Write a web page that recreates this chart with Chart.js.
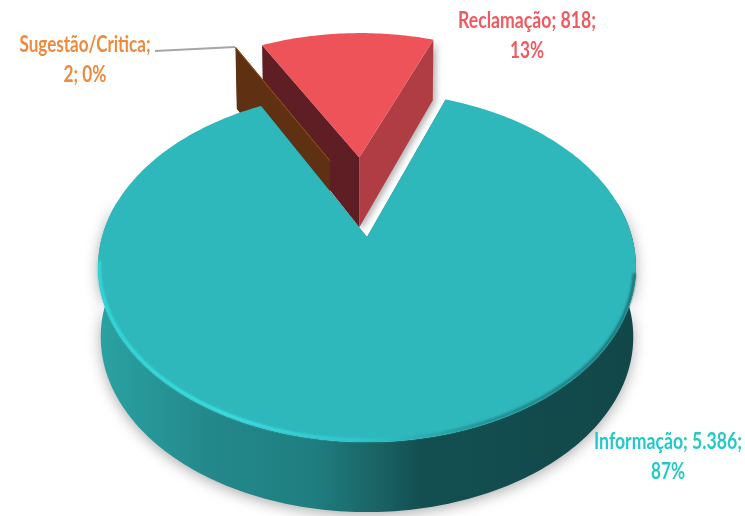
<!DOCTYPE html>
<html>
<head>
<meta charset="utf-8">
<title>Pie 3D</title>
<script src="https://cdn.jsdelivr.net/npm/chart.js@4"></script>
<style>
  html, body { margin: 0; padding: 0; background: #fff; }
  canvas { display: block; }
</style>
</head>
<body>
<canvas id="pieChart" width="745" height="516"></canvas>
<script>
const categories = ['Informação', 'Sugestão/Critica', 'Reclamação'];
const values = [5386, 2, 818];
const percentLabels = ['87%', '0%', '13%'];
const valueLabels = ['5.386', '2', '818'];

// colours per slice
const faceColors = ['#2eb8bc', '#8a4a1a', '#ee5359'];
const startWallColors = ['#1a6a6c', '#5f3112', '#5f1e24'];
const endWallColors = ['#1a6a6c', '#5f3112', '#b03d43'];
const labelColors = ['#22c9c6', '#ee8a3e', '#ee5a60'];

// perspective of the disc, in px
const persp = -0.171, scaleX = 265, scaleY = 170;
const DEG = Math.PI / 180;

function project(c, u, v, drop) {
  const w = 1 + persp * v;
  let x = c.x + scaleX * u / w;
  let y = c.y + scaleY * v / w;
  if (drop) {
    x = c.x + (x - c.x) * 0.99;
    y += v > -0.5 ? 70 : 70 + (v + 0.5) * 10;
  }
  return [x, y];
}

function polygon(ctx, pts) {
  ctx.beginPath();
  pts.forEach((p, i) => (i ? ctx.lineTo(p[0], p[1]) : ctx.moveTo(p[0], p[1])));
  ctx.closePath();
}

function linearX(ctx, x0, x1, stops) {
  const g = ctx.createLinearGradient(x0, 0, x1, 0);
  stops.forEach(s => g.addColorStop(s[0], s[1]));
  return g;
}

function drawSlice(ctx, arc, i) {
  const c = { x: arc.x, y: arc.y };
  const mid = (arc.startAngle + arc.endAngle) / 2;
  const explode = arc.options.offset / 100;
  // the thin slice sits a bit right of its mid angle line in the reference
  const u0 = Math.cos(mid) * explode + (i === 1 ? 0.1 : 0);
  const v0 = Math.sin(mid) * explode;
  const rim = (a) => [u0 + Math.cos(a), v0 + Math.sin(a)];
  const a1 = arc.startAngle, a2 = arc.endAngle;

  // outer wall, only where it faces the viewer
  if (a2 - a1 > Math.PI) {
    const top = [], bottom = [];
    for (let d = -12; d <= 192; d++) {
      const a = d * DEG;
      const p = rim(a);
      top.push(project(c, p[0], p[1], false));
      bottom.unshift(project(c, p[0], p[1], true));
    }
    ctx.save();
    ctx.shadowColor = 'rgba(0,0,0,0.32)';
    ctx.shadowBlur = 14;
    ctx.shadowOffsetY = 3;
    polygon(ctx, top.concat(bottom));
    ctx.fillStyle = linearX(ctx, 98, 636, [
      [0, '#2aa2a3'], [0.2, '#24898b'], [0.4, '#1f7e80'],
      [0.52, '#1a6365'], [0.6, '#134f51'], [1, '#124749']
    ]);
    ctx.fill();
    ctx.restore();
  }

  // cut walls
  [[a1, startWallColors[i]], [a2, endWallColors[i]]].forEach(([a, color]) => {
    const p = rim(a);
    ctx.save();
    if (i === 2) {
      ctx.shadowColor = 'rgba(0,0,0,0.3)';
      ctx.shadowBlur = 6;
      ctx.shadowOffsetX = 3;
      ctx.shadowOffsetY = 2;
    }
    polygon(ctx, [
      project(c, u0, v0, false), project(c, p[0], p[1], false),
      project(c, p[0], p[1], true), project(c, u0, v0, true)
    ]);
    ctx.fillStyle = color;
    ctx.fill();
    ctx.restore();
  });

  // top face
  const face = [project(c, u0, v0, false)];
  const steps = Math.max(2, Math.ceil((a2 - a1) / DEG));
  for (let s = 0; s <= steps; s++) {
    const p = rim(a1 + (a2 - a1) * s / steps);
    face.push(project(c, p[0], p[1], false));
  }
  polygon(ctx, face);
  ctx.fillStyle = faceColors[i];
  ctx.fill();
  if (i === 1) {
    ctx.strokeStyle = faceColors[i];
    ctx.lineWidth = 1;
    ctx.stroke();
  }

  // bevel on the front edge of the big slice
  if (a2 - a1 > Math.PI) {
    const edge = [];
    for (let d = 12; d <= 172; d++) {
      const p = rim(d * DEG);
      edge.push(project(c, p[0] * 0.995, p[1] * 0.992, false));
    }
    ctx.save();
    ctx.filter = 'blur(1px)';
    ctx.beginPath();
    edge.forEach((p, n) => (n ? ctx.lineTo(p[0], p[1]) : ctx.moveTo(p[0], p[1])));
    ctx.strokeStyle = linearX(ctx, 98, 636, [
      [0, '#33dadd'], [0.25, '#3be5e8'], [0.5, '#2fc6c9'],
      [0.72, '#1f8c8e'], [1, '#1a7072']
    ]);
    ctx.lineWidth = 3;
    ctx.stroke();
    ctx.restore();
  }
}

function drawLabels(ctx) {
  const lines = categories.map((name, i) => (i === 1
    ? [name + ';', valueLabels[i] + '; ' + percentLabels[i]]
    : [name + '; ' + valueLabels[i] + ';', percentLabels[i]]));
  const centers = [[668, 442], [85, 45], [527, 21]];
  const widths = [[148, 34], [131, 43], [138, 34]];

  ctx.save();
  ctx.strokeStyle = '#a6a6a6';
  ctx.lineWidth = 2;
  ctx.beginPath();
  ctx.moveTo(155, 51);
  ctx.lineTo(235, 47);
  ctx.stroke();

  ctx.font = 'bold 22px Lato, sans-serif';
  ctx.textAlign = 'center';
  ctx.textBaseline = 'middle';
  lines.forEach((pair, i) => {
    ctx.fillStyle = labelColors[i];
    ctx.fillText(pair[0], centers[i][0], centers[i][1], widths[i][0]);
    ctx.fillText(pair[1], centers[i][0], centers[i][1] + 30, widths[i][1]);
  });
  ctx.restore();
}

const pie3d = {
  id: 'pie3d',
  beforeDatasetsDraw(chart) {
    const ctx = chart.ctx;
    const arcs = chart.getDatasetMeta(0).data;
    // back to front: red, thin slice, big slice
    [2, 1, 0].forEach(i => drawSlice(ctx, arcs[i], i));
    drawLabels(ctx);
    return false;
  }
};

new Chart(document.getElementById('pieChart'), {
  type: 'pie',
  data: {
    labels: categories,
    datasets: [{
      data: values,
      backgroundColor: faceColors,
      borderWidth: 0,
      offset: [0, 55, 51]
    }]
  },
  options: {
    responsive: false,
    animation: false,
    rotation: 20.15,
    layout: { padding: { right: 11, bottom: 42 } },
    plugins: {
      legend: { display: false },
      tooltip: { enabled: false }
    }
  },
  plugins: [pie3d]
});
</script>
</body>
</html>
